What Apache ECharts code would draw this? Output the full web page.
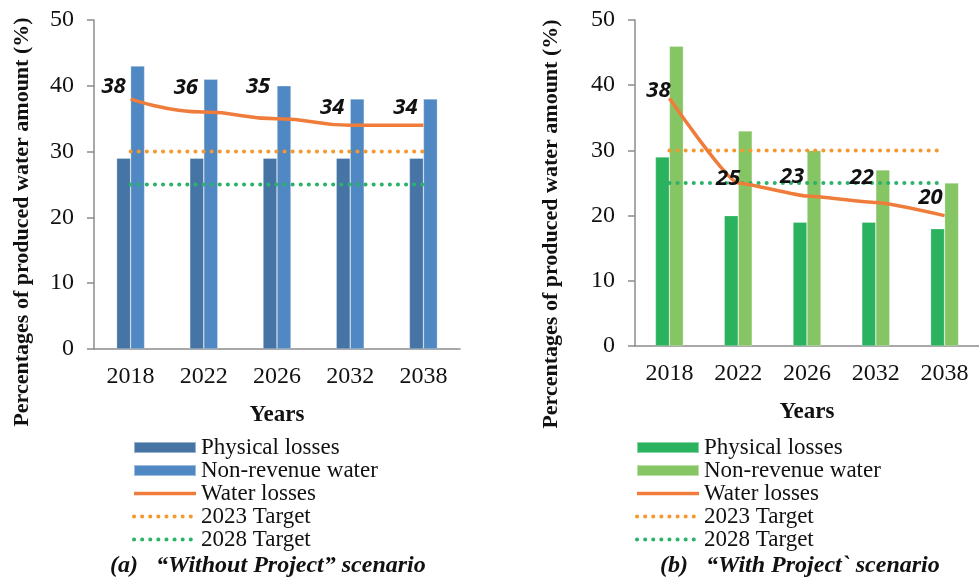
<!DOCTYPE html>
<html>
<head>
<meta charset="utf-8">
<script src="https://cdn.jsdelivr.net/npm/echarts@6/dist/echarts.min.js"></script>
<style>
  html, body { margin: 0; padding: 0; background: #fff; }
  #chart { width: 979px; height: 579px; }
</style>
</head>
<body>
<div id="chart"></div>
<script>
// data
const years = ['2018', '2022', '2026', '2032', '2038'];
const yTicks = [0, 10, 20, 30, 40, 50];

// (a) without project
const physicalA = [29, 29, 29, 29, 29];
const nrwA = [43, 41, 40, 38, 38];
const lossesA = [38, 36, 35, 34, 34];

// (b) with project
const physicalB = [29, 20, 19, 19, 18];
const nrwB = [46, 33, 30, 27, 25];
const lossesB = [38, 25, 23, 22, 20];

const target2023 = [30, 30, 30, 30, 30];
const target2028 = [25, 25, 25, 25, 25];

const serif = 'Liberation Serif';
const axisGray = '#8c8c8c';
const SUFFIX = ' (b)'; // keeps right-hand series names unique for its legend

const chart = echarts.init(document.getElementById('chart'));

function xAxisFor (idx) {
  return {
    type: 'category',
    gridIndex: idx,
    data: years,
    name: 'Years',
    nameLocation: 'middle',
    nameGap: 55,
    nameTextStyle: { fontFamily: serif, fontWeight: 'bold', fontSize: 23, color: '#111' },
    axisLine: { lineStyle: { color: axisGray, width: 1.5 } },
    axisTick: { show: false },
    axisLabel: { fontFamily: serif, fontSize: 24, color: '#111', margin: 16, interval: 0 }
  };
}

function yAxisFor (idx) {
  return {
    type: 'value',
    gridIndex: idx,
    min: yTicks[0],
    max: yTicks[yTicks.length - 1],
    interval: 10,
    splitLine: { show: false },
    axisLine: { show: true, lineStyle: { color: axisGray, width: 1.5 } },
    axisTick: { show: true, length: 7, lineStyle: { color: axisGray, width: 1.5 } },
    axisLabel: { fontFamily: serif, fontSize: 24, color: '#111', margin: 20 }
  };
}

// label nudges for the water-loss values (they sit up-left of the points)
const labelNudgeA = [[-17, 4], [-18, -8], [-19, -15], [-18, -1], [-18, -1]];
const labelNudgeB = [[-11, 9], [-10, 12], [-15, -3], [-14, -8], [-14, -1]];

function makeSeries (idx, suffix, cols, physical, nrw, losses, nudge, smooth) {
  const dotted = (color) => ({ color: color, width: 4, type: [0.1, 8], cap: 'round' });
  return [
    {
      name: 'Physical losses' + suffix,
      type: 'bar',
      xAxisIndex: idx, yAxisIndex: idx,
      barWidth: 14, barGap: '0%',
      itemStyle: { color: cols[0], borderColor: 'rgba(255,255,255,0.45)', borderWidth: 0.6 },
      data: physical
    },
    {
      name: 'Non-revenue water' + suffix,
      type: 'bar',
      xAxisIndex: idx, yAxisIndex: idx,
      barWidth: 14, barGap: '0%',
      itemStyle: { color: cols[1], borderColor: 'rgba(255,255,255,0.45)', borderWidth: 0.6 },
      data: nrw
    },
    {
      name: 'Water losses' + suffix,
      type: 'line',
      xAxisIndex: idx, yAxisIndex: idx,
      smooth: smooth,
      smoothMonotone: 'x',
      symbol: 'circle',
      symbolSize: 1,
      showSymbol: true,
      z: 5,
      lineStyle: { color: '#f07c3b', width: 3.5 },
      itemStyle: { color: 'rgba(240,124,59,0)' },
      label: {
        show: true,
        position: 'top',
        fontFamily: 'Open Sans',
        fontWeight: 'bold',
        fontStyle: 'italic',
        fontSize: 22,
        color: '#111'
      },
      data: losses.map((v, i) => ({ value: v, label: { offset: nudge[i] } }))
    },
    {
      name: '2023 Target' + suffix,
      type: 'line',
      xAxisIndex: idx, yAxisIndex: idx,
      symbol: 'none',
      z: 4,
      lineStyle: dotted('#f5982f'),
      itemStyle: { color: '#f5982f' },
      data: target2023
    },
    {
      name: '2028 Target' + suffix,
      type: 'line',
      xAxisIndex: idx, yAxisIndex: idx,
      symbol: 'none',
      z: 4,
      lineStyle: dotted('#2bb36b'),
      itemStyle: { color: '#2bb36b' },
      data: target2028
    }
  ];
}

const legendNames = ['Physical losses', 'Non-revenue water', 'Water losses', '2023 Target', '2028 Target'];
const legendLineWidth = [0, 0, 3.5, 4, 4];

function legendFor (suffix, left) {
  return {
    orient: 'vertical',
    left: left,
    top: 436,
    padding: 0,
    itemGap: 0,
    itemWidth: 62,
    itemHeight: 11,
    selectedMode: false,
    textStyle: { fontFamily: serif, fontSize: 23, color: '#111', lineHeight: 21.7 },
    formatter: (name) => name.replace(SUFFIX, ''),
    data: legendNames.map((n, i) => (i < 2
      ? { name: n + suffix, icon: 'rect' }
      : { name: n + suffix, itemStyle: { opacity: 0 }, lineStyle: { width: legendLineWidth[i] } }))
  };
}

const yTitle = 'Percentages of produced water amount (%)';
const captionStyle = { fontFamily: serif, fontWeight: 'bold', fontStyle: 'italic', fontSize: 24, color: '#111' };
const yTitleStyle = { text: yTitle, fontFamily: serif, fontWeight: 'bold', fontSize: 22, fill: '#111', align: 'center', verticalAlign: 'middle' };

const option = {
  animation: false,
  backgroundColor: '#fff',
  grid: [
    { left: 94, top: 20, width: 366, height: 329 },
    { left: 635, top: 20, width: 354, height: 326 }
  ],
  xAxis: [xAxisFor(0), xAxisFor(1)],
  yAxis: [yAxisFor(0), yAxisFor(1)],
  legend: [legendFor('', 132), legendFor(SUFFIX, 635)],
  title: [
    { text: '(a)   \u201cWithout Project\u201d scenario', left: 110, top: 554, padding: 0, textStyle: captionStyle },
    { text: '(b)   \u201cWith Project` scenario', left: 660, top: 554, padding: 0, textStyle: captionStyle }
  ],
  graphic: [
    { type: 'text', x: 22, y: 222, rotation: Math.PI / 2, style: yTitleStyle },
    { type: 'text', x: 551, y: 224, rotation: Math.PI / 2, style: yTitleStyle }
  ],
  series: [
    ...makeSeries(0, '', ['#4574a5', '#4f88c2'], physicalA, nrwA, lossesA, labelNudgeA, 0.5),
    ...makeSeries(1, SUFFIX, ['#2ab25f', '#85c563'], physicalB, nrwB, lossesB, labelNudgeB, 0.15)
  ]
};

chart.setOption(option);
</script>
</body>
</html>
